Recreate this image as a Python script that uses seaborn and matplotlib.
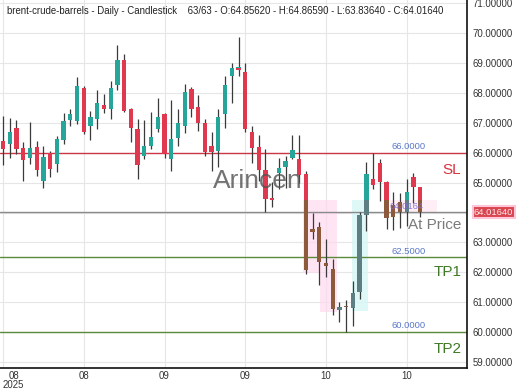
import numpy as np
import pandas as pd
import matplotlib
matplotlib.use("Agg")
import matplotlib.pyplot as plt
import seaborn as sns

# ---- data ----
opens = [66.41, 66.28, 66.83, 66.17, 65.81, 66.20, 65.06, 66.00, 65.61, 66.44, 67.09, 67.06,
         68.18, 66.90, 67.14, 67.61, 67.46, 68.26, 69.10, 67.46, 66.81, 65.88, 66.23, 66.79,
         67.28, 65.79, 66.51, 66.90, 68.14, 67.53, 66.99, 66.21, 66.07, 67.29, 68.57, 68.80,
         68.70, 66.70, 66.19, 65.44, 64.47, 65.33, 65.53, 65.83, 65.78, 65.28, 63.42, 63.50,
         62.31, 62.11, 60.74, 60.88, 60.80, 61.35, 63.91, 65.12, 65.66, 65.03, 64.25, 64.36,
         64.03, 65.18, 64.8562]
highs = [67.22, 67.16, 67.11, 66.37, 67.03, 66.39, 66.24, 66.06, 66.56, 67.33, 67.48, 68.53,
         68.23, 67.40, 68.09, 67.98, 68.40, 69.59, 69.29, 67.50, 67.12, 67.09, 67.37, 67.84,
         67.34, 67.76, 67.46, 68.31, 68.21, 67.94, 67.12, 66.71, 67.48, 68.57, 69.00, 69.87,
         69.00, 66.89, 66.61, 66.11, 65.03, 65.83, 65.89, 66.61, 66.61, 65.39, 64.00, 63.67,
         63.10, 62.43, 61.02, 61.07, 61.72, 64.02, 65.69, 66.00, 65.80, 65.07, 64.70, 64.64,
         65.11, 65.31, 64.8659]
lows = [65.58, 65.83, 65.95, 65.06, 65.61, 65.22, 64.83, 65.20, 65.36, 66.28, 66.91, 66.95,
        66.62, 66.42, 66.81, 67.34, 67.12, 68.09, 67.35, 66.37, 65.12, 65.79, 66.14, 66.70,
        65.84, 65.40, 66.23, 66.66, 67.18, 66.73, 65.90, 65.38, 65.54, 66.84, 67.68, 68.57,
        66.70, 65.67, 65.06, 64.02, 64.20, 64.80, 64.83, 65.80, 65.00, 61.95, 63.10, 61.56,
        61.83, 60.57, 60.35, 60.01, 60.20, 61.10, 63.38, 64.79, 64.39, 63.44, 63.41, 63.47,
        63.55, 64.31, 63.8364]
closes = [66.13, 66.70, 66.13, 65.76, 66.17, 65.44, 65.87, 65.47, 66.47, 67.06, 67.28, 68.22,
          66.70, 67.18, 67.66, 67.46, 68.18, 69.09, 67.40, 66.84, 65.59, 66.21, 66.54, 67.21,
          65.96, 66.46, 67.01, 68.03, 67.48, 67.01, 66.04, 66.03, 67.18, 68.27, 68.84, 68.84,
          66.78, 66.17, 65.44, 64.44, 64.44, 65.50, 65.72, 66.09, 65.24, 62.09, 63.38, 62.33,
          62.20, 60.76, 60.83, 60.83, 61.30, 63.91, 65.29, 64.92, 65.03, 63.83, 63.86, 64.03,
          64.70, 64.86, 64.0164]

x_tick_pos = [0, 12, 24, 36, 48, 60]
x_tick_labels = ["08\n2025", "08", "09", "09", "10", "10"]
y_ticks = [59, 60, 61, 62, 63, 64, 65, 66, 67, 68, 69, 70, 71]

sl_level = 66.0
tp1_level = 62.5
tp2_level = 60.0
price_level = 64.0164
zone_top = 64.42

title = ("brent-crude-barrels - Daily - Candlestick    63/63 - O:64.85620 - "
         "H:64.86590 - L:63.83640 - C:64.01640")

# ---- style ----
sns.set_style("whitegrid")
plt.rcParams["font.family"] = ["Liberation Sans", "DejaVu Sans"]

df = pd.DataFrame({"open": opens, "high": highs, "low": lows, "close": closes})
df["x"] = np.arange(len(df))
df["up"] = df["close"] >= df["open"]
df["top"] = df[["open", "close"]].max(axis=1)
df["bot"] = df[["open", "close"]].min(axis=1)

UP, DOWN = "#26a69a", "#e0384e"
UP_LOW, DOWN_LOW = "#5d7f83", "#8d5a3b"
WICK = "#3a3a3a"

fig = plt.figure(figsize=(5.2, 3.9), dpi=100)
ax = fig.add_axes([0.0, 0.0564, 0.898, 0.9436])
ax.set_facecolor("white")

# zones
ax.fill_between([44.6, 47.1], 61.97, zone_top, color="#ffd9ee", alpha=0.7, lw=0, zorder=1)
ax.fill_between([47.1, 49.6], 60.68, zone_top, color="#ffd9ee", alpha=0.7, lw=0, zorder=1)
ax.fill_between([51.9, 54.3], 60.72, zone_top, color="#d6f7f7", alpha=0.8, lw=0, zorder=1)
ax.fill_between([57.5, 64.5], price_level, zone_top, color="#ffe3f1", alpha=0.6, lw=0, zorder=1)

# horizontal levels
ax.axhline(sl_level, color="#cc3646", lw=1.0, zorder=2)
ax.axhline(price_level, color="#8a8a8a", lw=1.0, zorder=2)
ax.axhline(tp1_level, color="#5a8a3a", lw=1.0, zorder=2)
ax.axhline(tp2_level, color="#5a8a3a", lw=1.0, zorder=2)

# wicks
ax.vlines(df["x"], df["low"], df["high"], color=WICK, lw=0.9, zorder=3)

# bodies (split at zone_top)
w = 0.64
hi_top = df["top"]
hi_bot = np.maximum(df["bot"], zone_top)
lo_top = np.minimum(df["top"], zone_top)
lo_bot = df["bot"]
hi_h = np.clip(hi_top - hi_bot, 0, None)
lo_h = np.clip(lo_top - lo_bot, 0, None)
col_hi = np.where(df["up"], UP, DOWN)
col_lo = np.where(df["up"], UP_LOW, DOWN_LOW)
min_h = 0.06
ax.bar(df["x"], np.where(hi_h > 0, np.maximum(hi_h, min_h), 0), bottom=hi_bot,
       width=w, color=col_hi, lw=0, zorder=4)
ax.bar(df["x"], np.where(lo_h > 0, np.maximum(lo_h, min_h), 0), bottom=lo_bot,
       width=w, color=col_lo, lw=0, zorder=4)
# doji marks
doji = (df["top"] - df["bot"]) < 0.05
ax.bar(df["x"][doji], 0.06, bottom=df["bot"][doji] - 0.03, width=w,
       color=np.where(df["bot"][doji] >= zone_top, DOWN, DOWN_LOW), lw=0, zorder=4)

# axes config
ax.set_xlim(-0.45, 68.95)
ax.set_ylim(58.80, 71.11)
ax.yaxis.tick_right()
ax.set_yticks(y_ticks)
ax.set_yticklabels(["" if v == 64 else f"{v:.5f}" for v in y_ticks])
ax.set_xticks(x_tick_pos)
ax.set_xticklabels(x_tick_labels)
xl = ax.get_xticklabels()
xl[0].set_horizontalalignment("left")
xl[0].set_multialignment("center")
for t in xl:
    t.set_linespacing(0.95)
ax.tick_params(axis="both", length=0, labelsize=6.9, colors="#333333", pad=4)
ax.tick_params(axis="x", pad=2)
ax.grid(True, color="#e6e6e6", lw=0.8)
for s in ["top", "left"]:
    ax.spines[s].set_visible(False)
for s in ["right", "bottom"]:
    ax.spines[s].set_visible(True)
    ax.spines[s].set_color("#111111")
    ax.spines[s].set_linewidth(1.2)

# texts
ax.text(0.015, 0.985, title, transform=ax.transAxes, fontsize=6.9, color="#222222",
        ha="left", va="top", zorder=6)
ax.text(37.9, 65.05, "Arincen", fontsize=19, color="#505050", alpha=0.8,
        ha="center", va="center", zorder=5)
ax.text(60.3, sl_level + 0.06, "66.0000", fontsize=6.8, color="#5a78c8", ha="center", va="bottom", zorder=5)
ax.text(60.3, tp1_level + 0.06, "62.5000", fontsize=6.8, color="#5a78c8", ha="center", va="bottom", zorder=5)
ax.text(60.3, tp2_level + 0.06, "60.0000", fontsize=6.8, color="#5a78c8", ha="center", va="bottom", zorder=5)
ax.text(68.1, 65.43, "SL", fontsize=11, color="#d8303f", ha="right", va="center", zorder=5)
ax.text(68.1, 62.0, "TP1", fontsize=11, color="#3f7a26", ha="right", va="center", zorder=5)
ax.text(68.1, 59.45, "TP2", fontsize=11, color="#3f7a26", ha="right", va="center", zorder=5)
ax.text(68.1, 63.6, "At Price", fontsize=11, color="#7a7a7a", ha="right", va="center", zorder=5)
ax.text(60.0, price_level + 0.2, "64.0164", fontsize=6.8, color="#7d6ad0", alpha=0.9,
        ha="center", va="center", zorder=5)
ax.text(1.015, price_level, "64.01640", transform=ax.get_yaxis_transform(), fontsize=6.8,
        color="#fde8ea", ha="left", va="center", zorder=6, clip_on=False,
        bbox=dict(boxstyle="square,pad=0.15", fc="#d9464f", ec="#ffc6da", lw=1.5))

fig.savefig("out.png", dpi=100)
